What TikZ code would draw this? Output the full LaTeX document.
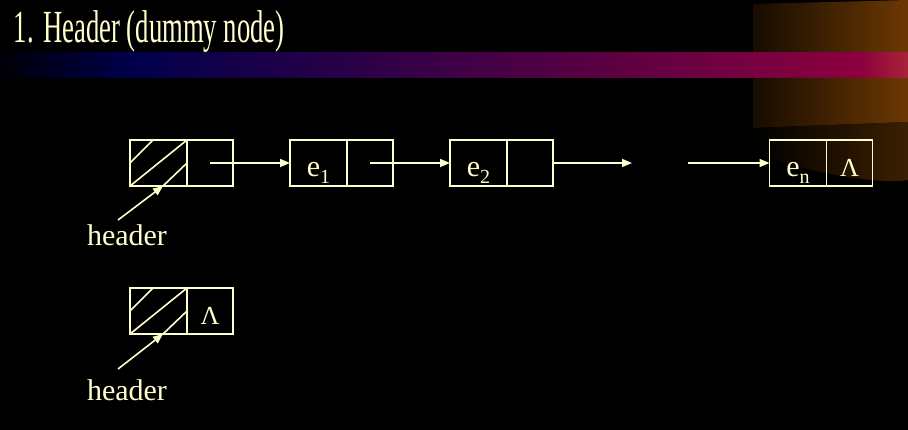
\documentclass[tikz,border=0pt]{standalone}
\usepackage{fontspec}
\setmainfont{Liberation Serif}
\usetikzlibrary{arrows.meta,positioning}

\definecolor{chalk}{RGB}{255,255,204}
\definecolor{navy}{RGB}{0,0,75}
\definecolor{wine}{RGB}{140,0,62}
\definecolor{rust}{RGB}{168,36,56}
\definecolor{umber}{RGB}{108,56,2}
\definecolor{soot}{RGB}{22,12,0}

\newcommand\lowidx[1]{\raisebox{-7pt}{\fontsize{20}{20}\selectfont #1}}

\begin{document}
\begin{tikzpicture}[x=1pt,y=-1pt,>={Triangle[length=10pt,width=8pt]},
    line width=1.6pt,node distance=0pt,
    cell/.style={draw=chalk,outer sep=0pt,inner sep=0pt,minimum height=46pt,
        text=chalk,text height=28pt,text depth=0pt},
    datacell/.style={cell,minimum width=57pt,font=\fontsize{30}{30}\selectfont},
    linkcell/.style={cell,minimum width=46pt,font=\fontsize{26}{26}\selectfont},
    label/.style={text=chalk,font=\fontsize{30}{30}\selectfont},
    ptr/.style={->,draw=chalk,fill=chalk},
    hatch/.style={draw=chalk}]

    % slide background
    \fill[black] (0,0) rectangle (908,430);
    \shade[left color=soot,right color=umber] (753,4) -- (908,0) -- (908,122) -- (753,128) -- cycle;
    \shade[left color=black,right color=umber!55!black] (753,128) -- (908,122) -- (908,180)
        .. controls (880,185) and (800,172) .. (753,152) -- cycle;
    \shade[left color=black!90!navy,right color=navy] (0,53) rectangle (130,78);
    \shade[left color=navy,right color=wine] (130,53) rectangle (860,78);
    \shade[left color=wine,right color=rust] (860,53) rectangle (908,78);

    \node[anchor=base west,inner sep=0pt,text=chalk,font=\fontsize{46}{46}\selectfont] (title) at (13,43)
        {\scalebox{0.58}[1]{1.\hspace{0.35em}Header (dummy node)}};

    % list with header
    \node[datacell] (h1d) at (158.5,163) {};
    \node[linkcell,right=of h1d] (h1l) {};
    \node[datacell] (e1d) at (318.5,163) {e\lowidx{1}};
    \node[linkcell,right=of e1d] (e1l) {};
    \node[datacell] (e2d) at (478.5,163) {e\lowidx{2}};
    \node[linkcell,right=of e2d] (e2l) {};
    \node[datacell] (ed) at (798,163) {e\lowidx{n}};
    \node[linkcell,right=of ed] (el) {Λ};
    \coordinate (gap1) at (632,163);
    \coordinate (gap2) at (688,163);

    % empty list
    \node[datacell] (h2d) at (158.5,311) {};
    \node[linkcell,right=of h2d] (h2l) {Λ};

    \node[label] (hdr1) at (127,235) {header};
    \node[label] (hdr2) at (127,390) {header};
    \coordinate (t1) at (118,220);
    \coordinate (t2) at (118,369);

    \foreach \r in {h1d,h2d} {
        \draw[hatch] (\r.west) -- ([xshift=23pt]\r.north west);
        \draw[hatch] (\r.south west) -- (\r.north east);
        \draw[hatch] ([xshift=33pt]\r.south west) -- (\r.east);
    }

    \path (h1l.center) edge[ptr] (e1d.west)
          (e1l.center) edge[ptr] (e2d.west)
          (e2l.east)   edge[ptr] (gap1)
          (gap2)       edge[ptr] (ed.west)
          (t1)         edge[ptr] ([xshift=33pt]h1d.south west)
          (t2)         edge[ptr] ([xshift=33pt]h2d.south west);

\end{tikzpicture}
\end{document}
